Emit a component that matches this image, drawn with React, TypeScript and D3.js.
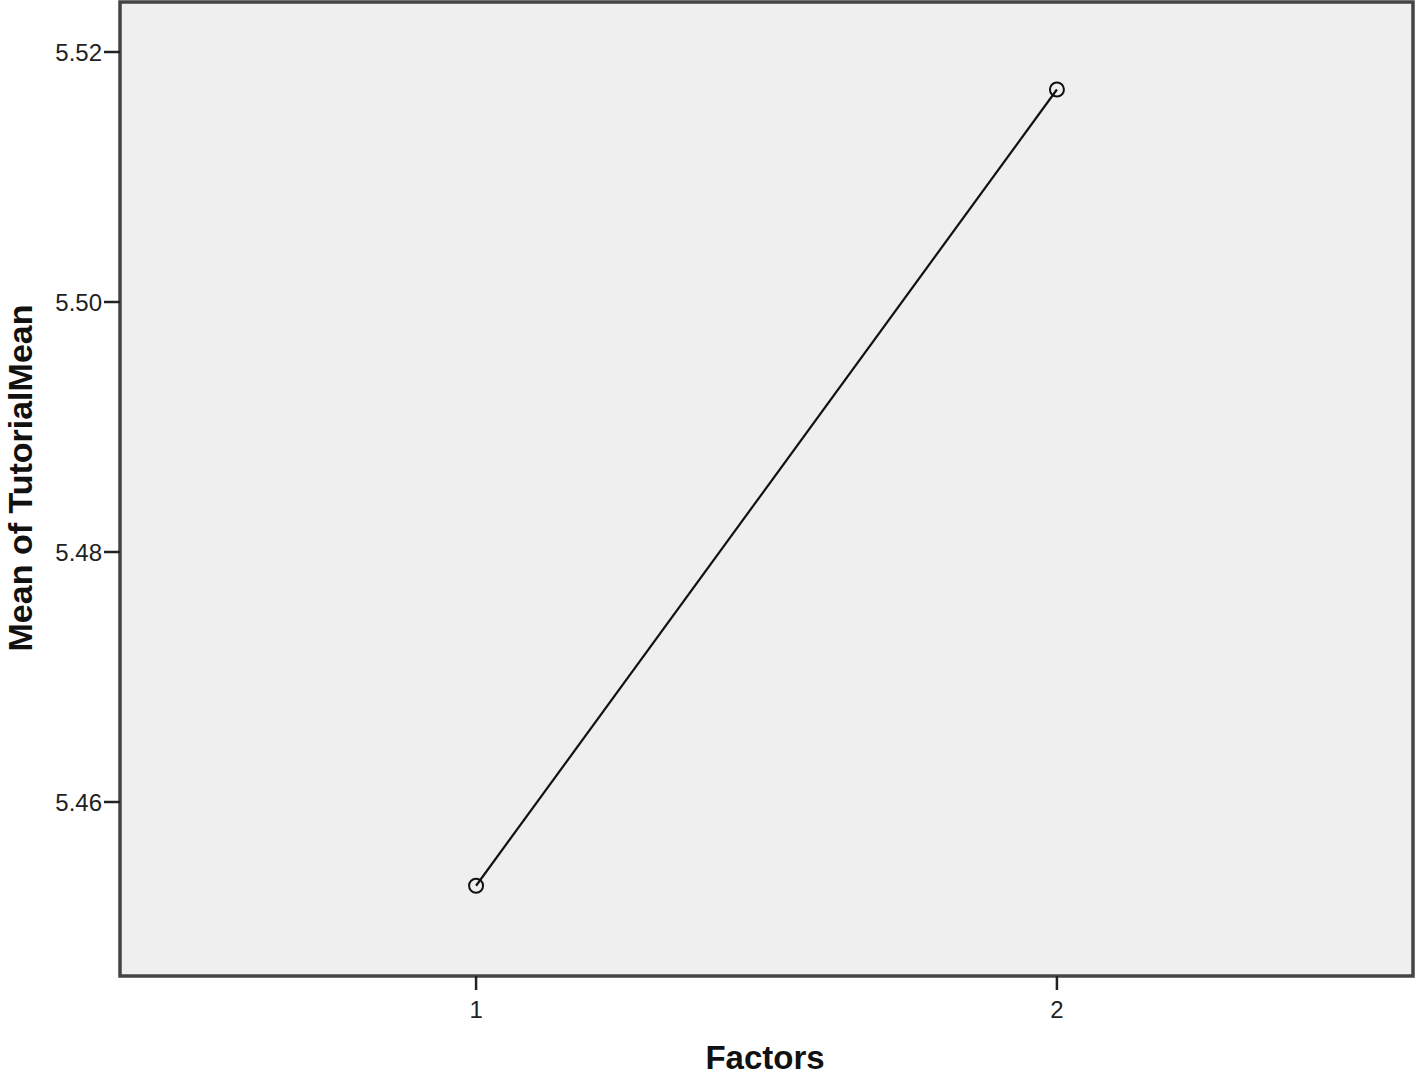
import React from 'react'
import * as d3 from 'd3'

const factors = [1, 2]
const means = [5.4533, 5.517]
const yTicks = [5.46, 5.48, 5.5, 5.52]

const W = 1417
const H = 1083
const margin = {left: 120, top: 2, right: 4, bottom: 107}

export default function App() {
	const iw = W - margin.left - margin.right
	const ih = H - margin.top - margin.bottom

	const x = d3.scaleLinear().domain([0.387, 2.613]).range([0, iw])
	const y = d3.scaleLinear().domain([5.44608, 5.524]).range([ih, 0])

	const line = d3.line<number>()
		.x((d, i) => x(factors[i]))
		.y(d => y(d))

	return (
		<svg width={W} height={H} style={{position: 'absolute', left: 0, top: 0}} fontFamily="Arial, 'Liberation Sans', sans-serif">
			<g transform={`translate(${margin.left},${margin.top})`}>
				<rect x={0} y={0} width={iw} height={ih} fill="#f0efef" stroke="#444" strokeWidth={3.5} />
				<path d={line(means) || ''} fill="none" stroke="#111" strokeWidth={2.2} />
				{means.map((m, i) => (
					<circle key={`pt-${i}`} cx={x(factors[i])} cy={y(m)} r={7} fill="none" stroke="#111" strokeWidth={2} />
				))}

				{yTicks.map(t => (
					<g key={`yt-${t}`} transform={`translate(0,${y(t)})`}>
						<line x1={-16} x2={0} stroke="#222" strokeWidth={2.5} />
						<text x={-18} dy="0.36em" textAnchor="end" fontSize={24} fill="#222">{t.toFixed(2)}</text>
					</g>
				))}

				{factors.map(f => (
					<g key={`xt-${f}`} transform={`translate(${x(f)},${ih})`}>
						<line y1={0} y2={14} stroke="#222" strokeWidth={2.5} />
						<text y={42} textAnchor="middle" fontSize={24} fill="#222">{f}</text>
					</g>
				))}
			</g>

			<text x={765} y={1069} textAnchor="middle" fontSize={33} fontWeight="bold" fill="#111">Factors</text>
			<text transform={`translate(32,478) rotate(-90)`} textAnchor="middle" fontSize={34} fontWeight="bold" fill="#111">Mean of TutorialMean</text>
		</svg>
	)
}
